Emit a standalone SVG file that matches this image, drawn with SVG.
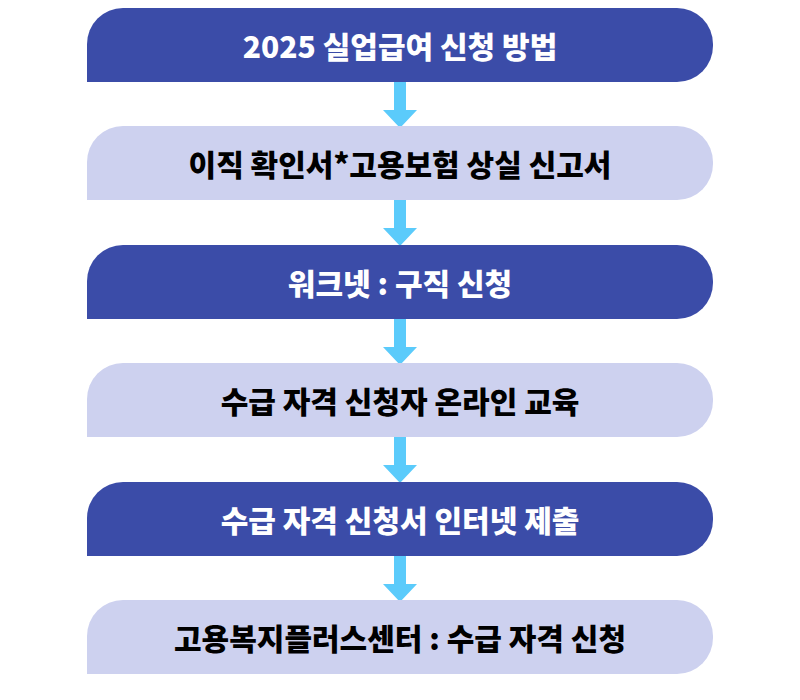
<svg xmlns="http://www.w3.org/2000/svg" width="800" height="700" viewBox="0 0 800 700">
<style>
.d{fill:#3b4ca8}.l{fill:#cdd1ef}
text{font-family:"Noto Sans CJK KR",sans-serif;font-weight:900;font-size:30px;text-anchor:middle;dominant-baseline:central}
.w{fill:#fff}.k{fill:#000}
.a{fill:#5bcbfb}
</style>
<defs>
<path id="box" d="M0,74 V36 A36,36 0 0 1 36,0 H590 A36,36 0 0 1 626,36 V38 A36,36 0 0 1 590,74 Z"/>
<path id="arr" d="M-6,0 H6 V28 H17 L0,46 L-17,28 H-6 Z"/>
</defs>
<g id="connectors">
<use href="#arr" x="400" y="82" class="a"/>
<use href="#arr" x="400" y="200" class="a"/>
<use href="#arr" x="400" y="319" class="a"/>
<use href="#arr" x="400" y="437" class="a"/>
<use href="#arr" x="400" y="556" class="a"/>
</g>
<g id="n1"><use href="#box" x="87" y="8" class="d"/><text x="400" y="45" class="w">2025 실업급여 신청 방법</text></g>
<g id="n2"><use href="#box" x="87" y="126" class="l"/><text x="400" y="163" class="k">이직 확인서*고용보험 상실 신고서</text></g>
<g id="n3"><use href="#box" x="87" y="245" class="d"/><text x="400" y="282" class="w">워크넷 : 구직 신청</text></g>
<g id="n4"><use href="#box" x="87" y="363" class="l"/><text x="400" y="400" class="k">수급 자격 신청자 온라인 교육</text></g>
<g id="n5"><use href="#box" x="87" y="482" class="d"/><text x="400" y="519" class="w">수급 자격 신청서 인터넷 제출</text></g>
<g id="n6"><use href="#box" x="87" y="600" class="l"/><text x="400" y="637" class="k">고용복지플러스센터 : 수급 자격 신청</text></g>
</svg>
